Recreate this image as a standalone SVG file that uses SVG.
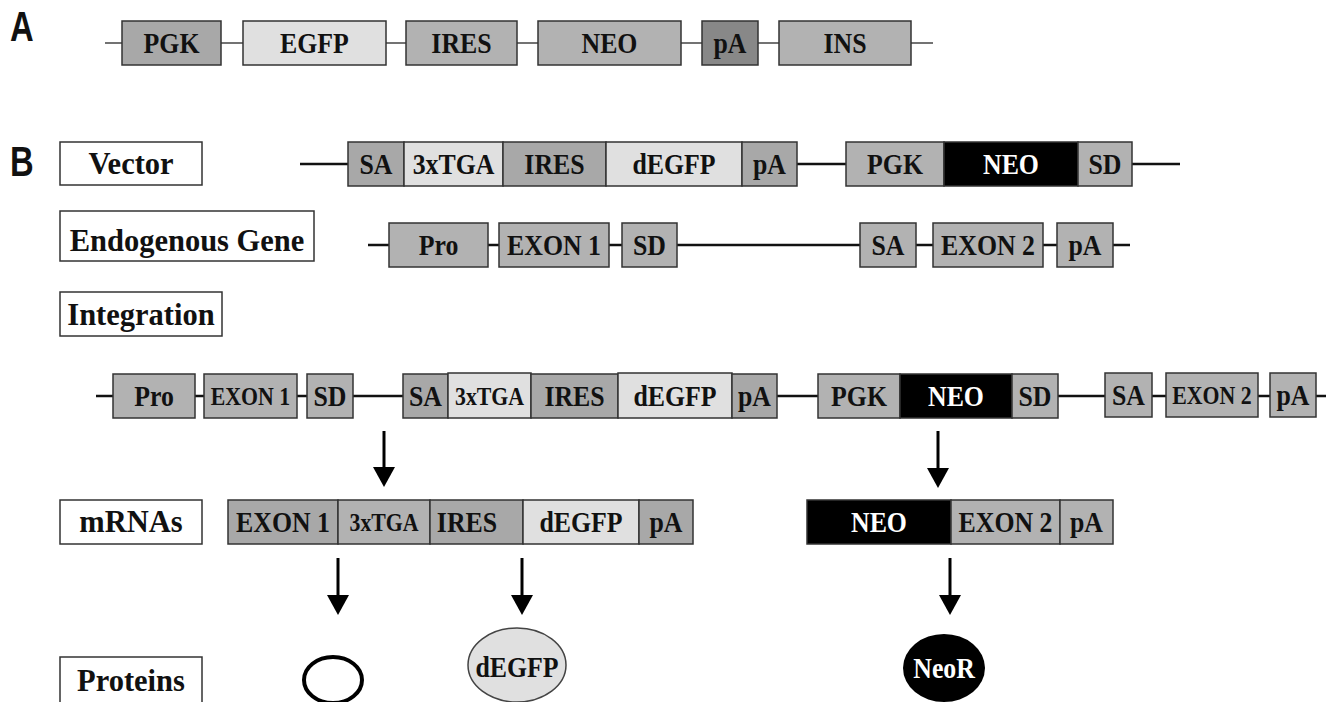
<svg xmlns="http://www.w3.org/2000/svg" width="1326" height="702" viewBox="0 0 1326 702">
<defs>
<style>
.b{stroke:#333;stroke-width:1.5}
.g1{fill:#a8a8a8}.g2{fill:#b2b2b2}.lt{fill:#e0e0e0}.dk{fill:#888}.blk{fill:#000}.wb{fill:#fff}
.t{font-family:"Liberation Serif","Times New Roman",serif;font-weight:bold;font-size:29px;text-anchor:middle;fill:#111;transform-box:fill-box;transform-origin:center;transform:scaleX(0.89)}
.s{font-size:24.5px}
.lbl{font-size:30.5px;transform:none}
.w{fill:#fff}
.pl{font-family:"Liberation Sans",Arial,sans-serif;font-weight:bold;font-size:42px;fill:#111}
.ln{stroke:#111;stroke-width:2.5;fill:none}
.lnA{stroke:#444;stroke-width:1.5;fill:none}
.ar{stroke:#000;stroke-width:3;fill:none;marker-end:url(#ah)}
</style>
<marker id="ah" viewBox="0 0 20 22" refX="2" refY="11" markerWidth="20" markerHeight="22" markerUnits="userSpaceOnUse" orient="auto">
<path d="M0,0 L20,11 L0,22 z" fill="#000"/>
</marker>
</defs>
<rect width="1326" height="702" fill="#fff"/>
<text class="pl" transform="translate(10,41) scale(0.78,1)">A</text>
<text class="pl" transform="translate(10,176) scale(0.78,1)">B</text>

<g id="connectors">
<line class="lnA" x1="105" y1="43" x2="933" y2="43"/>
<line class="ln" x1="300" y1="164" x2="1180" y2="164"/>
<line class="ln" x1="368" y1="245" x2="1130" y2="245"/>
<line class="ln" x1="96" y1="396" x2="1326" y2="396"/>
<line class="ar" x1="384" y1="431" x2="384" y2="469"/>
<line class="ar" x1="938" y1="431" x2="938" y2="470"/>
<line class="ar" x1="338" y1="558" x2="338" y2="597"/>
<line class="ar" x1="522" y1="558" x2="522" y2="597"/>
<line class="ar" x1="950" y1="558" x2="950" y2="597"/>
</g>

<g id="rowA">
<g id="a-pgk"><rect class="b g1" x="122" y="21" width="99" height="44"/><text class="t" x="171.5" y="53">PGK</text></g>
<g id="a-egfp"><rect class="b lt" x="243" y="21" width="143" height="44"/><text class="t" x="314.5" y="53">EGFP</text></g>
<g id="a-ires"><rect class="b g2" x="406" y="21" width="111" height="44"/><text class="t" x="461.5" y="53">IRES</text></g>
<g id="a-neo"><rect class="b g2" x="538" y="21" width="143" height="44"/><text class="t" x="609.5" y="53">NEO</text></g>
<g id="a-pa"><rect class="b dk" x="702" y="21" width="56" height="44"/><text class="t" x="730" y="53">pA</text></g>
<g id="a-ins"><rect class="b g2" x="779" y="21" width="132" height="44"/><text class="t" x="845" y="53">INS</text></g>
</g>

<g id="label-vector"><rect class="b wb" x="60" y="142" width="142" height="43"/><text class="t lbl" x="131" y="174">Vector</text></g>
<g id="vector">
<g id="v-sa"><rect class="b g1" x="348" y="142" width="56" height="44"/><text class="t" x="376" y="174">SA</text></g>
<g id="v-tga"><rect class="b lt" x="404" y="142" width="99" height="44"/><text class="t" x="453.5" y="174">3xTGA</text></g>
<g id="v-ires"><rect class="b g1" x="503" y="142" width="103" height="44"/><text class="t" x="554.5" y="174">IRES</text></g>
<g id="v-degfp"><rect class="b lt" x="606" y="142" width="136" height="44"/><text class="t" x="674" y="174">dEGFP</text></g>
<g id="v-pa"><rect class="b g1" x="742" y="142" width="55" height="44"/><text class="t" x="769.5" y="174">pA</text></g>
<g id="v-pgk"><rect class="b g2" x="846" y="142" width="98" height="44"/><text class="t" x="895" y="174">PGK</text></g>
<g id="v-neo"><rect class="b blk" x="944" y="142" width="134" height="44"/><text class="t w" x="1011" y="174">NEO</text></g>
<g id="v-sd"><rect class="b g2" x="1078" y="142" width="54" height="44"/><text class="t" x="1105" y="174">SD</text></g>
</g>

<g id="label-endo"><rect class="b wb" x="60" y="211" width="254" height="50"/><text class="t lbl" x="187" y="251">Endogenous Gene</text></g>
<g id="endogenous">
<g id="e-pro"><rect class="b g2" x="389" y="223" width="99" height="44"/><text class="t" x="438.5" y="255">Pro</text></g>
<g id="e-ex1"><rect class="b g2" x="499" y="223" width="110" height="44"/><text class="t" x="554" y="255">EXON 1</text></g>
<g id="e-sd"><rect class="b g2" x="622" y="223" width="55" height="44"/><text class="t" x="649.5" y="255">SD</text></g>
<g id="e-sa"><rect class="b g2" x="860" y="223" width="56" height="44"/><text class="t" x="888" y="255">SA</text></g>
<g id="e-ex2"><rect class="b g2" x="933" y="223" width="110" height="44"/><text class="t" x="988" y="255">EXON 2</text></g>
<g id="e-pa"><rect class="b g2" x="1057" y="223" width="56" height="44"/><text class="t" x="1085" y="255">pA</text></g>
</g>

<g id="label-integ"><rect class="b wb" x="60" y="292" width="162" height="44"/><text class="t lbl" x="141" y="325">Integration</text></g>
<g id="integration">
<g id="i-pro"><rect class="b g2" x="113" y="374" width="82" height="44"/><text class="t" x="154" y="406">Pro</text></g>
<g id="i-ex1"><rect class="b g2" x="204" y="374" width="93" height="44"/><text class="t s" x="250.5" y="405">EXON 1</text></g>
<g id="i-sd"><rect class="b g2" x="307" y="374" width="46" height="44"/><text class="t" x="330" y="406">SD</text></g>
<g id="i-sa"><rect class="b g1" x="403" y="374" width="45" height="44"/><text class="t" x="425.5" y="406">SA</text></g>
<g id="i-tga"><rect class="b lt" x="448" y="373" width="83" height="45"/><text class="t s" x="489.5" y="405">3xTGA</text></g>
<g id="i-ires"><rect class="b g1" x="531" y="374" width="87" height="44"/><text class="t" x="574.5" y="406">IRES</text></g>
<g id="i-degfp"><rect class="b lt" x="618" y="373" width="114" height="45"/><text class="t" x="675" y="406">dEGFP</text></g>
<g id="i-pa"><rect class="b g1" x="732" y="374" width="45" height="44"/><text class="t" x="754.5" y="406">pA</text></g>
<g id="i-pgk"><rect class="b g2" x="818" y="374" width="82" height="44"/><text class="t" x="859" y="406">PGK</text></g>
<g id="i-neo"><rect class="b blk" x="900" y="374" width="112" height="44"/><text class="t w" x="956" y="406">NEO</text></g>
<g id="i-sd2"><rect class="b g2" x="1012" y="374" width="46" height="44"/><text class="t" x="1035" y="406">SD</text></g>
<g id="i-sa2"><rect class="b g2" x="1105" y="373" width="47" height="44"/><text class="t" x="1128.5" y="405">SA</text></g>
<g id="i-ex2"><rect class="b g2" x="1166" y="373" width="92" height="44"/><text class="t s" x="1212" y="404">EXON 2</text></g>
<g id="i-pa2"><rect class="b g2" x="1270" y="373" width="46" height="44"/><text class="t" x="1293" y="405">pA</text></g>
</g>

<g id="label-mrna"><rect class="b wb" x="60" y="500" width="142" height="44"/><text class="t lbl" x="131" y="532">mRNAs</text></g>
<g id="mrna1">
<g id="m-ex1"><rect class="b g1" x="228" y="500" width="110" height="44"/><text class="t" x="283" y="532">EXON 1</text></g>
<g id="m-tga"><rect class="b g2" x="338" y="500" width="92" height="44"/><text class="t s" x="384" y="531">3xTGA</text></g>
<g id="m-ires"><rect class="b g1" x="430" y="500" width="93" height="44"/><text class="t" x="467" y="532">IRES</text></g>
<g id="m-degfp"><rect class="b lt" x="523" y="500" width="116" height="44"/><text class="t" x="581" y="532">dEGFP</text></g>
<g id="m-pa"><rect class="b g1" x="639" y="500" width="54" height="44"/><text class="t" x="666" y="532">pA</text></g>
</g>
<g id="mrna2">
<g id="m-neo"><rect class="b blk" x="807" y="500" width="144" height="44"/><text class="t w" x="879" y="532">NEO</text></g>
<g id="m-ex2"><rect class="b g2" x="951" y="500" width="109" height="44"/><text class="t" x="1005.5" y="532">EXON 2</text></g>
<g id="m-pa2"><rect class="b g2" x="1060" y="500" width="53" height="44"/><text class="t" x="1086.5" y="532">pA</text></g>
</g>

<g id="label-proteins"><rect class="b wb" x="60" y="657" width="142" height="47"/><text class="t lbl" x="131" y="691">Proteins</text></g>
<g id="p-empty"><ellipse cx="333" cy="680" rx="29" ry="23" fill="#fff" stroke="#000" stroke-width="4"/></g>
<g id="p-degfp"><ellipse cx="517" cy="665" rx="49" ry="37" fill="#e0e0e0" stroke="#444" stroke-width="1.5"/><text class="t" x="517" y="677">dEGFP</text></g>
<g id="p-neor"><ellipse cx="944" cy="668" rx="41" ry="34" fill="#000"/><text class="t w" x="944" y="678">NeoR</text></g>
</svg>
